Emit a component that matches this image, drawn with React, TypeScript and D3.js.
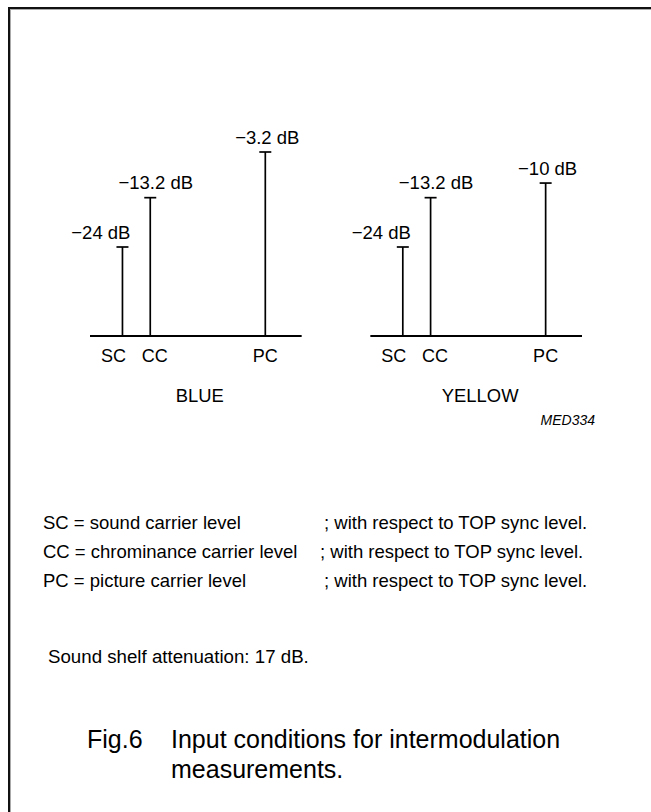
import React, { useEffect } from "react";
import * as d3 from "d3";

const panels = ["BLUE", "YELLOW"];
const carriers = ["SC", "CC", "PC"];
const carrierOffsetMHz = [-5.5, -4.43, 0];
const blueLevels = [-24, -13.2, -3.2];
const yellowLevels = [-24, -13.2, -10];
const legendNames = ["SC = sound carrier level", "CC = chrominance carrier level", "PC = picture carrier level"];
const legendSuffix = "; with respect to TOP sync level.";
const shelfNote = "Sound shelf attenuation: 17 dB.";
const figNumber = "Fig.6";
const figTitle = ["Input conditions for intermodulation", "measurements."];
const code = "MED334";

const W = 651;
const H = 812;
const FONT = "'Liberation Sans', Arial, Helvetica, sans-serif";

export default function App() {
  useEffect(() => {
    document.body.style.margin = "0";
    document.body.style.overflow = "hidden";
  }, []);
  const levels = [blueLevels, yellowLevels];
  const panelX = d3.scaleBand<string>().domain(panels).range([90, 582]).paddingInner(0.245);
  const bw = panelX.bandwidth();
  const fx = d3.scaleLinear().domain([-6.75, 1.4]).range([0, bw]);
  const baseY = 336;
  const y = d3.scaleLinear().domain([-24, -3.2]).range([baseY - 89, baseY - 184]);
  const fmt = (v: number) => `\u2212${Math.abs(v)} dB`;
  const cap = 6;
  // label nudges so neighbouring labels do not collide
  const valueAnchor = ["end", "middle", "middle"];
  const valueShift = [8, 5.5, 2];
  const nameShift = [-9, 4.5, 0];

  return (
    <svg width={W} height={H} style={{ position: "absolute", left: 0, top: 0, background: "#fff" }}
      fontFamily={FONT}>
      <rect x={0} y={0} width={W} height={H} fill="#fff" />
      <rect x={9} y={8} width={W + 40} height={H + 40} fill="none" stroke="#111" strokeWidth={2} />
      <rect x={10.5} y={9.5} width={W + 40} height={H + 40} fill="none" stroke="#aaa" strokeWidth={1} />
      {panels.map((p, pi) => {
        const x0 = panelX(p)!;
        return (
          <g key={p} transform={`translate(${x0},0)`}>
            <line x1={0} x2={bw} y1={baseY} y2={baseY} stroke="#000" strokeWidth={1.8} />
            {carriers.map((c, ci) => {
              const cx = fx(carrierOffsetMHz[ci]);
              const v = levels[pi][ci];
              const ty = y(v);
              return (
                <g key={c}>
                  <line x1={cx} x2={cx} y1={baseY} y2={ty} stroke="#000" strokeWidth={1.7} />
                  <line x1={cx - cap} x2={cx + cap} y1={ty} y2={ty} stroke="#000" strokeWidth={1.7} />
                  <text x={cx + valueShift[ci]} y={ty - 8.5} textAnchor={valueAnchor[ci]} fontSize={18.5}>{fmt(v)}</text>
                  <text x={cx + nameShift[ci]} y={baseY + 26} textAnchor="middle" fontSize={18}>{c}</text>
                </g>
              );
            })}
            <text x={bw / 2 + 4} y={baseY + 66} textAnchor="middle" fontSize={18.4}>{p}</text>
          </g>
        );
      })}
      <text x={595} y={425} textAnchor="end" fontSize={14} fontStyle="italic">{code}</text>
      {legendNames.map((t, i) => (
        <g key={t}>
          <text x={43} y={529 + i * 29} fontSize={18.5}>{t}</text>
          <text x={i === 1 ? 320 : 324} y={529 + i * 29} fontSize={18.5}>{legendSuffix}</text>
        </g>
      ))}
      <text x={48} y={663} fontSize={18.7}>{shelfNote}</text>
      <text x={87} y={748} fontSize={25}>{figNumber}</text>
      {figTitle.map((t, i) => (
        <text key={t} x={171} y={748 + i * 30} fontSize={25}>{t}</text>
      ))}
    </svg>
  );
}
